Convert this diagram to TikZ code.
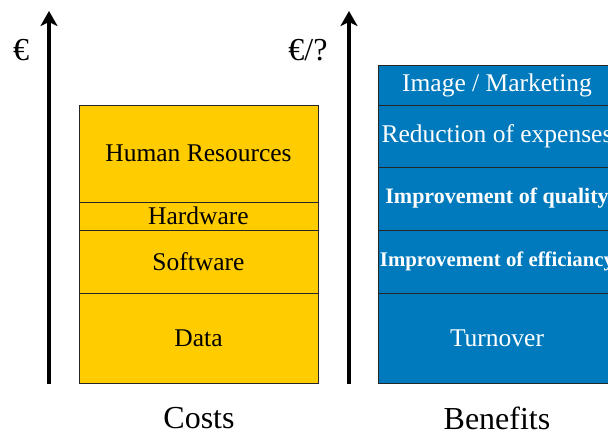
\documentclass[tikz,border=0pt]{standalone}
\usepackage{fontspec}
\setmainfont{Liberation Serif}
\usetikzlibrary{arrows.meta}
\definecolor{costy}{RGB}{255,204,0}
\definecolor{benb}{RGB}{0,122,188}
\tikzset{
  seg/.style={draw=black!85, line width=0.8pt, inner sep=0pt, outer sep=0pt, anchor=center},
  cost/.style={seg, fill=costy, minimum width=239pt, text=black, font=\fontsize{25.5}{28}\selectfont},
  ben/.style={seg, fill=benb, minimum width=238pt, text=white, font=\fontsize{25.5}{28}\selectfont},
  benbold/.style={ben, font=\fontsize{22}{26}\selectfont\bfseries},
  axis/.style={line width=3.6pt, -{Stealth[width=17pt,length=15pt,inset=4pt]}},
  lbl/.style={inner sep=0pt, font=\fontsize{32}{34}\selectfont},
}
\begin{document}
\begin{tikzpicture}[x=1pt,y=-1pt]
\useasboundingbox (0,0) rectangle (608,433);
\clip (0,0) rectangle (608,433);
% cost stack
\node[cost, minimum height=97pt] (hr) at (198.5,153.5) {Human Resources};
\node[cost, minimum height=28pt] (hw) at (198.5,216) {Hardware};
\node[cost, minimum height=63pt] (sw) at (198.5,261.5) {Software};
\node[cost, minimum height=90pt] (data) at (198.5,338) {Data};
% benefit stack
\node[ben, minimum height=40pt] (img) at (497,85) {Image / Marketing};
\node[ben, minimum height=62pt] (red) at (497,136) {Reduction of expenses};
\node[benbold, minimum height=63pt] (qual) at (497,198.5) {Improvement of quality};
\node[benbold, minimum height=63pt, font=\fontsize{20.8}{24}\selectfont\bfseries] (eff) at (497,261.5) {Improvement of efficiancy};
\node[ben, minimum height=90pt] (turn) at (497,338) {Turnover};
% axes
\coordinate (a1s) at (49,384);
\coordinate (a1e) at (49,11);
\coordinate (a2s) at (349,384);
\coordinate (a2e) at (349,11);
\draw[axis] (a1s) -- (a1e);
\draw[axis] (a2s) -- (a2e);
\node[lbl] (eur) at (21,50) {€};
\node[lbl] (eurq) at (308,50) {€/?};
\node[lbl] (costs) at (199,418) {Costs};
\node[lbl] (bens) at (497,418) {Benefits};
\end{tikzpicture}
\end{document}
